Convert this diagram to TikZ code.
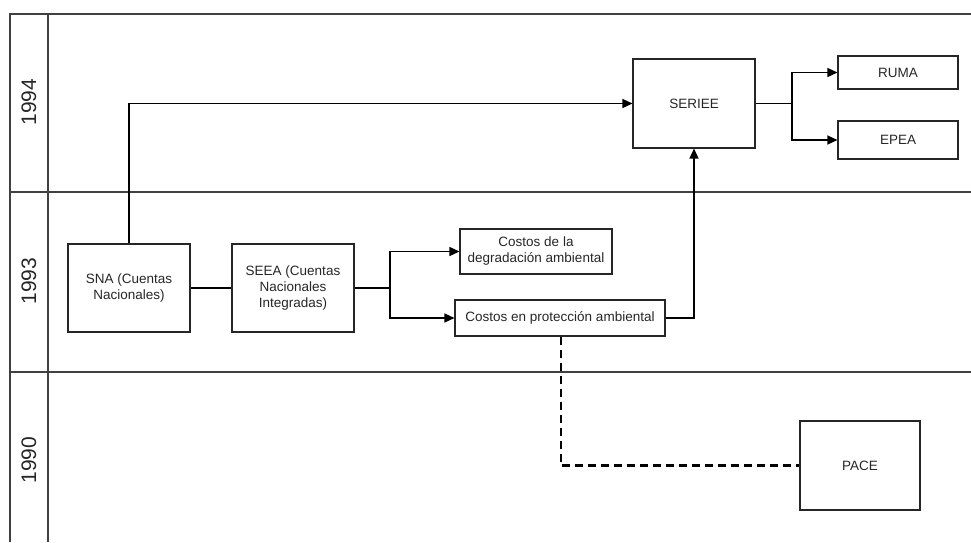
\documentclass[tikz,border=0pt]{standalone}
\usepackage{fontspec}
\setmainfont{Liberation Sans}
\usetikzlibrary{arrows.meta}
\begin{document}
\begin{tikzpicture}[x=1pt,y=-1pt,
  frame/.style={draw=black!75,line width=1.1pt},
  box/.style={draw=black!85,line width=1.1pt,font=\fontsize{13.5}{16}\selectfont,align=center,inner sep=0pt,text=black!85},
  conn/.style={draw=black,line width=1.3pt},
  arr/.style={conn,-{Triangle[length=10pt,width=9pt]}},
  dashline/.style={draw=black,line width=2.3pt,dash pattern=on 8pt off 5pt},
  year/.style={font=\fontsize{21}{24}\selectfont,rotate=90,text=black!85}]
\useasboundingbox (0,0) rectangle (971,542);
% frame
\draw[frame] (971,14) -- (10,14) -- (10,542);
\draw[frame] (48,14) -- (48,542);
\draw[frame] (10,192) -- (971,192);
\draw[frame] (10,372) -- (971,372);
\node[year] (y94) at (29,102) {1994};
\node[year] (y93) at (29,281) {1993};
\node[year] (y90) at (29,460) {1990};
% boxes
\node[box,minimum width=122pt,minimum height=88pt] (sna) at (129,288) {SNA (Cuentas\\Nacionales)};
\node[box,minimum width=122pt,minimum height=88pt] (seea) at (293,288) {SEEA (Cuentas\\Nacionales\\Integradas)};
\node[box,minimum width=152pt,minimum height=45pt] (deg) at (536,251.5) {Costos de la\\degradación ambiental};
\node[box,minimum width=210pt,minimum height=36pt] (prot) at (560,318) {Costos en protección ambiental};
\node[box,minimum width=122pt,minimum height=89pt] (seriee) at (694,103.5) {SERIEE};
\node[box,minimum width=120pt,minimum height=33pt] (ruma) at (898,72.5) {RUMA};
\node[box,minimum width=120pt,minimum height=38pt] (epea) at (898,140) {EPEA};
\node[box,minimum width=120pt,minimum height=89pt] (pace) at (860,465.5) {PACE};
% coordinates
\coordinate (b1) at (390,288);
\coordinate (b2) at (792,103.5);
% connectors
\draw[arr] (sna.north) |- (seriee.west);
\draw[conn] (sna.east) -- (seea.west);
\draw[conn] (seea.east) -- (b1);
\draw[arr] (b1) |- (deg.west);
\draw[arr] (b1) |- (prot.west);
\draw[arr] (prot.east) -| (seriee.south);
\draw[conn] (seriee.east) -- (b2);
\draw[arr] (b2) |- (ruma.west);
\draw[arr] (b2) |- (epea.west);
\draw[dashline] ([xshift=1pt]prot.south) |- (pace.west);
\end{tikzpicture}
\end{document}
